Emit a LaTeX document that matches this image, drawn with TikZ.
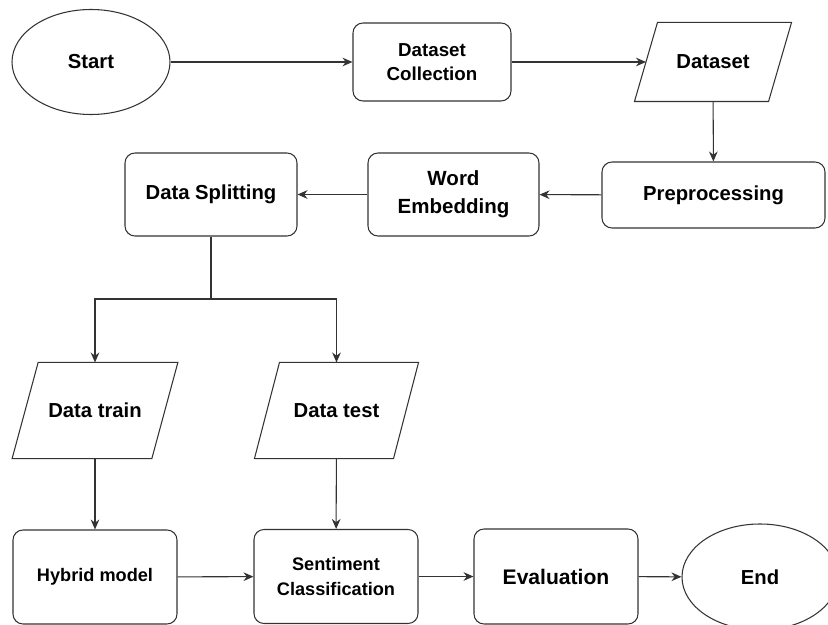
\documentclass[tikz,border=0pt]{standalone}
\usepackage{fontspec}
\setmainfont{Liberation Sans}
\usetikzlibrary{shapes.geometric,arrows.meta}

\begin{document}
\begin{tikzpicture}[x=0.03cm,y=-0.03cm,
    line/.style={draw=black!80,line width=0.9pt},
    every node/.style={font=\fontsize{17.3}{22}\selectfont\bfseries,align=center,
      line,inner sep=0pt},
    oval/.style={ellipse,minimum width=4.74cm,minimum height=3.15cm},
    box/.style={rectangle,rounded corners=0.3cm},
    io/.style={rectangle,draw=none,minimum height=#1},
    flow/.style={line,-{Stealth[length=0.3cm,width=0.26cm]}}]
    \useasboundingbox (0,0) rectangle (828,625);

    \node[oval] (start) at (91,62) {Start};
    \node[box,minimum width=4.74cm,minimum height=2.34cm,
      font=\fontsize{16}{20}\selectfont\bfseries] (dcoll) at (432,62) {Dataset\\Collection};
    \node[io=2.34cm,minimum width=3.99cm] (dset) at (713,62) {Dataset};
    \node[box,minimum width=6.69cm,minimum height=1.98cm] (prep) at (713.5,195) {Preprocessing};
    \node[box,minimum width=5.13cm,minimum height=2.49cm,
      font=\fontsize{17.5}{24}\selectfont\bfseries] (wemb) at (453.5,194.5) {Word\\Embedding};
    \node[box,minimum width=5.16cm,minimum height=2.49cm] (dsplit) at (211,194.5) {Data Splitting};

    \node[io=2.85cm,minimum width=4.16cm] (dtrain) at (95,410.5) {Data train};
    \node[io=2.85cm,minimum width=4.14cm] (dtest) at (336.5,410.5) {Data test};

    \node[box,minimum width=4.92cm,minimum height=2.82cm,
      font=\fontsize{15.5}{19}\selectfont\bfseries] (hybrid) at (95,577) {Hybrid model};
    \node[box,minimum width=4.92cm,minimum height=2.82cm,
      font=\fontsize{15.5}{21}\selectfont\bfseries] (senti) at (336,576.5) {Sentiment\\Classification};
    \node[box,minimum width=4.92cm,minimum height=2.85cm,
      font=\fontsize{18}{22}\selectfont\bfseries] (eval) at (556,576.5) {Evaluation};
    \node[oval,minimum width=4.68cm,minimum height=3.18cm] (fin) at (760,577) {End};

    % slanted input/output boxes
    \foreach \n/\s in {dset/0.345,dtrain/0.39,dtest/0.375}
    \draw[line] ([xshift=\s cm]\n.north west) -- ([xshift=\s cm]\n.north east)
      -- ([xshift=-\s cm]\n.south east) -- ([xshift=-\s cm]\n.south west) -- cycle;

    \coordinate (fork) at (211,299);

    \foreach \a/\b in {start/dcoll,dcoll/dset,dset/prep,prep/wemb,wemb/dsplit,
      dtrain/hybrid,dtest/senti,hybrid/senti,senti/eval,eval/fin}
    \draw[flow] (\a) -- (\b);

    \draw[line] (dsplit) -- (fork);
    \draw[flow] (fork) -| (dtrain.north);
    \draw[flow] (fork) -| (dtest.north);
  \end{tikzpicture}
\end{document}
